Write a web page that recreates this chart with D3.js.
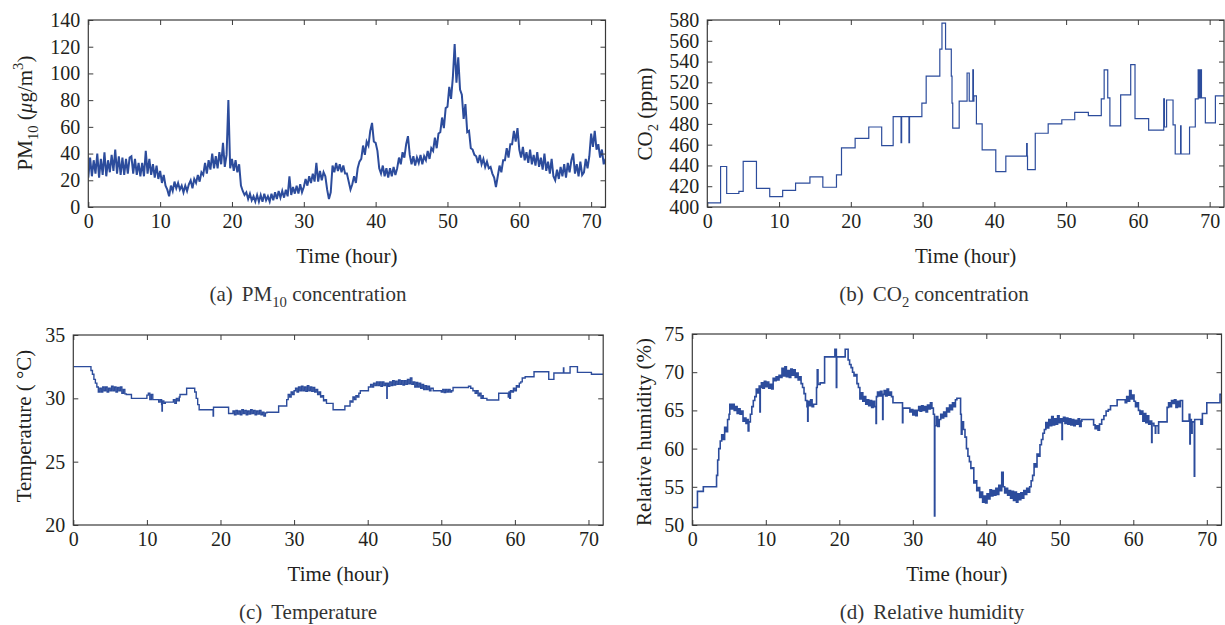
<!DOCTYPE html>
<html><head><meta charset="utf-8">
<script src="https://cdn.jsdelivr.net/npm/d3@7"></script>
<style>
body{margin:0;background:#fff}
svg{display:block}
text{font-family:"Liberation Serif","Times New Roman",serif;fill:#231f20}
</style>
</head><body>
<svg id="chart" width="1225" height="625"></svg>
<script>
// ---------------- data ----------------
const xTicks = [0,10,20,30,40,50,60,70];
const pm10Ticks = [0,20,40,60,80,100,120,140];
const co2Ticks = [400,420,440,460,480,500,520,540,560,580];
const tempTicks = [20,25,30,35];
const rhTicks = [50,55,60,65,70,75];

// PM10 readings every quarter hour (µg/m3)
const pm10Hours = d3.range(0, 72.001, 0.25);
const pm10Values = [
22,37,23,35, 25,40,22,36, 24,41,23,35, 26,39,27,43,
25,38,24,37, 24,36,25,37, 38,25,36,24, 33,23,33,23,
42,25,36,24, 32,22,31,21, 27,18,24,16, 13,8,16,12,
19,14,18,13, 16,11,16,12, 17,20,14,21, 18,24,19,26,
24,33,25,35, 28,40,29,38, 29,41,32,48, 30,39,80,29,
36,27,35,26, 32,16,12,9, 11,6,10,5, 8,4,9,4,
9,4,10,5, 8,4,10,5, 11,6,12,7, 12,7,13,8,
23,9,15,10, 16,10,17,11, 15,21,16,23, 18,25,19,33,
19,27,20,26, 23,13,6,11, 31,26,33,27, 32,26,31,25,
25,19,13,17, 23,18,29,34, 36,46,39,49, 46,57,63,49,
48,42,29,25, 31,23,29,22, 29,23,30,24, 29,37,32,41,
37,47,53,39, 32,38,31,37, 33,39,32,38, 35,42,36,44,
42,52,44,55, 56,67,59,74, 75,90,81,97, 122,93,112,88,
84,66,77,56, 57,44,43,39, 38,33,39,32, 36,30,34,29,
30,25,22,15, 23,31,26,35, 35,44,37,47, 47,57,49,59,
43,37,45,35, 41,33,43,32, 39,31,41,30, 37,28,40,27,
34,25,36,23, 20,28,21,30, 23,32,22,33, 26,35,40,25,
32,23,34,24, 26,36,29,38, 55,45,57,43, 47,37,43,32,
36
];

// CO2 (ppm): [hour, value held until next hour]
const co2Steps = [
[0,404],[1.85,439],[2.7,413],[4.4,415],[5.0,444],[6.85,418],[8.7,410],[10.5,416],
[12.3,423],[14.3,429],[16.1,419],[18.0,431],[18.7,457],[20.6,466],[22.5,477],[24.3,459],
[25.9,487],[27.0,462],[27.08,487],[28.1,462],[28.18,487],[29.9,500],[30.5,526],[32.4,552],
[32.7,577],[33.2,552],[34.0,526],[34.1,500],[34.2,476],[35.1,502],[36.2,529],[36.5,502],
[37.0,532],[37.08,502],[37.15,507],[37.5,480],[38.3,455],[40.2,434],[41.6,449],[44.5,461],
[44.58,449],[44.62,436],[45.7,471],[47.5,480],[49.4,484],[51.2,491],[53.1,488],[54.9,504],
[55.3,532],[55.8,505],[56.1,478],[57.6,508],[59.0,537],[59.6,485],[61.5,474],[63.6,504],
[63.7,477],[64.0,503],[64.9,479],[65.2,451],[65.95,478],[66.02,451],[67.2,477],[68.0,504],
[68.4,532],[68.46,505],[68.6,532],[68.66,505],[68.8,532],[68.86,505],
[69.4,481],[70.8,507],[72,507]
];

// Temperature (°C): [hour, value held until next hour]
const tempSteps = [
[0,32.5],[2.4,32.2],[2.6,31.9],[2.8,31.5],[3.0,31.2],[3.2,30.9],
[3.4,30.5],[3.6,30.8],[3.8,30.5],[4.0,30.9],[4.2,30.6],[4.4,30.9],[4.6,30.5],[4.8,30.8],
[5.0,30.6],[5.2,30.95],[5.4,30.6],[5.6,30.9],[5.8,30.5],[6.0,30.85],[6.2,30.6],[6.4,30.9],
[6.6,30.4],[6.8,30.7],[7.0,30.35],[7.2,30.3],[7.9,30.0],
[10.0,30.25],[10.2,30.4],[10.4,29.9],[10.6,30.3],[10.8,29.9],
[11.6,29.7],[11.8,29.9],[12.0,29.5],[12.05,29.0],[12.1,29.8],[12.3,29.6],
[12.5,29.7],[13.6,29.9],[13.8,29.6],[14.0,30.0],[14.2,29.8],[14.4,30.1],
[14.5,30.3],[15.4,30.8],[16.5,30.5],[16.7,30.0],[16.9,29.5],[17.1,29.1],
[19.0,28.6],[19.05,29.3],
[21.1,28.8],[21.7,29.0],[21.9,28.7],[22.1,29.05],[22.3,28.75],[22.5,29.0],[22.7,28.7],
[22.9,29.1],[23.1,28.8],[23.3,29.05],[23.5,28.7],[23.7,29.0],[23.9,28.75],[24.1,29.1],
[24.3,28.8],[24.5,29.05],[24.7,28.7],[24.9,29.0],[25.1,28.75],[25.3,29.05],[25.5,28.7],
[25.7,28.9],[25.9,28.6],[26.1,28.85],[26.3,28.9],[27.9,29.4],
[29.0,29.9],[29.2,30.3],[29.4,30.1],[29.6,30.5],[29.8,30.3],[30.0,30.6],[30.2,30.8],
[30.4,30.5],[30.6,30.9],[30.8,30.6],[31.0,30.95],[31.2,30.6],[31.4,30.9],[31.6,30.55],
[31.8,31.0],[32.0,30.6],[32.2,30.9],[32.4,30.55],[32.6,30.85],[32.8,30.5],[33.0,30.7],
[33.2,30.3],[33.4,30.5],[33.6,30.1],[33.8,30.2],[34.0,29.8],[34.2,29.9],
[34.4,29.6],[35.3,29.1],[36.9,29.4],[37.6,29.8],[37.8,29.7],[38.0,30.1],[38.2,29.9],
[38.4,30.2],[38.6,30.1],[38.8,30.4],
[39.0,30.6],[40.1,30.9],[40.4,31.1],[40.6,30.9],[40.8,31.2],[41.0,31.0],[41.2,31.3],
[41.4,31.0],[41.6,31.3],[41.8,30.95],[42.0,31.3],[42.2,31.0],[42.4,31.2],[42.6,30.0],
[42.65,31.2],[42.8,30.95],[43.0,31.3],[43.2,31.0],[43.4,31.4],[43.6,31.05],[43.8,31.35],
[44.0,31.1],[44.2,31.45],[44.4,31.1],[44.6,31.4],[44.8,31.05],[45.0,31.4],[45.2,31.1],
[45.4,31.5],[45.6,31.15],[45.8,31.6],[46.0,31.1],[46.2,31.3],[46.4,30.9],[46.6,31.25],
[46.8,30.9],[47.0,31.2],[47.2,30.8],[47.4,31.1],[47.6,30.7],[47.8,31.0],[48.0,30.7],
[48.2,30.95],[48.4,30.6],[48.6,30.8],
[48.9,30.6],[50.0,30.5],[50.2,30.7],[50.4,30.45],[50.6,30.7],[50.8,30.5],[51.0,30.7],
[51.2,30.5],[51.4,30.6],
[51.6,30.85],[53.7,30.95],[54.0,30.8],[54.3,30.6],[54.6,30.4],[54.8,30.6],[55.0,30.2],
[55.2,30.4],[55.4,30.0],[55.6,30.2],
[55.7,30.0],[56.2,29.87],[57.8,30.4],[59.1,30.1],[59.2,30.5],[59.3,30.0],[59.4,30.6],
[59.6,30.5],[59.8,30.8],[60.0,30.6],[60.2,31.0],[60.4,30.9],[60.6,31.2],[60.8,31.3],
[61.0,31.6],[61.4,31.7],[62.6,32.1],[64.6,31.5],[65.3,32.0],[66.6,32.4],[66.65,32.0],
[67.5,32.5],[68.5,32.05],[70.4,31.9],[72,31.9]
];

// Relative humidity (%): [hour, value held until next hour]
const rhSteps = [
[0,52.3],[0.7,54.4],[1.5,55.0],[3.3,56.5],[3.45,58.5],[3.6,60.0],[3.8,61.0],[4.0,61.8],
[4.2,61.2],[4.4,62.8],[4.6,62.2],[4.8,63.8],[5.0,64.5],[5.1,65.8],[5.3,65.2],[5.5,65.8],
[5.7,65.0],[5.9,65.5],[6.1,64.6],[6.3,65.2],[6.5,64.5],[6.7,64.9],[6.9,63.6],[7.1,64.0],
[7.3,63.3],[7.5,63.8],[7.6,62.3],[7.7,63.5],[7.9,64.5],[8.1,65.5],[8.3,66.3],[8.5,66.8],
[8.7,67.8],[8.9,67.3],[9.1,68.2],[9.2,64.8],[9.25,68.0],[9.4,68.6],[9.6,67.9],[9.8,68.8],
[10.0,68.1],[10.2,68.7],[10.4,67.9],[10.6,68.4],[10.8,67.8],[11.0,69.2],[11.2,68.9],
[11.4,69.4],[11.6,69.0],[11.8,69.6],[12.0,69.3],[12.2,70.5],[12.4,69.5],[12.6,70.7],
[12.8,69.4],[13.0,70.2],[13.2,69.3],[13.4,70.4],[13.6,69.6],[13.8,70.3],[14.0,69.3],
[14.2,69.9],[14.4,69.0],[14.6,69.4],[14.8,68.5],[15.0,68.0],[15.2,67.2],[15.4,66.3],
[15.6,65.5],[15.7,63.6],[15.75,66.2],[15.9,65.6],[16.1,66.4],[16.3,65.5],[16.5,65.8],
[16.9,68.0],[17.0,70.3],[17.1,68.4],[17.4,68.6],[18.0,72.0],[19.4,73.0],[19.6,68.0],
[19.65,72.0],[20.8,73.0],[21.2,71.6],[21.4,71.0],[21.6,70.6],[21.8,70.0],[22.0,69.5],
[22.2,69.7],[22.4,68.5],[22.6,68.0],[22.8,66.5],[23.0,67.3],[23.2,66.2],[23.4,66.8],
[23.6,65.8],[23.8,66.4],[24.0,65.6],[24.2,66.3],[24.4,65.4],[24.6,66.2],[24.8,65.5],
[25.0,63.3],[25.05,66.8],[25.2,67.4],[25.4,66.9],[25.6,67.5],[25.8,66.9],[25.9,63.8],
[25.95,67.1],[26.1,67.6],[26.3,66.9],[26.5,67.8],[26.7,67.0],[26.9,67.4],[27.1,66.8],
[27.3,66.0],[28.6,63.4],[28.65,65.3],[29.6,64.8],[29.8,65.1],[30.0,64.4],[30.2,65.0],
[30.4,64.3],[30.6,65.0],[30.8,65.5],[31.0,64.9],[31.2,65.6],[31.4,65.0],[31.6,65.5],
[31.8,64.8],[32.0,65.7],[32.2,65.2],[32.4,66.0],[32.6,65.3],[32.8,64.5],[32.95,51.2],
[33.0,63.0],[33.2,64.2],[33.4,62.9],[33.6,63.8],[33.8,64.5],[34.0,64.0],[34.2,64.8],
[34.4,64.2],[34.6,65.3],[34.8,64.8],[35.0,65.7],[35.2,65.1],[35.4,66.0],[35.6,65.5],
[35.8,66.4],[36.0,66.6],[36.5,64.5],[36.6,61.9],[36.7,63.5],[36.9,62.5],[37.1,61.5],
[37.3,60.0],[37.5,59.0],[37.7,58.3],[37.9,57.4],[38.1,57.5],[38.3,55.5],[38.5,55.8],
[38.7,54.5],[38.9,54.9],[39.1,53.6],[39.3,54.3],[39.5,53.0],[39.7,53.8],[39.9,52.9],
[40.1,54.1],[40.3,53.4],[40.5,54.6],[40.7,53.8],[40.9,54.5],[41.1,53.9],[41.3,54.8],
[41.5,54.0],[41.7,55.2],[41.9,54.5],[42.1,56.9],[42.3,55.0],[42.5,54.2],[42.7,54.8],
[42.9,53.9],[43.1,54.5],[43.3,53.5],[43.5,54.4],[43.7,53.2],[43.9,54.3],[44.1,53.0],
[44.3,54.1],[44.5,53.3],[44.7,54.2],[44.9,53.5],[45.1,54.5],[45.3,54.0],[45.5,54.8],
[45.7,54.3],[45.9,55.0],[46.1,55.8],[46.3,56.5],[46.5,58.0],[46.7,57.6],[46.9,59.3],
[47.1,59.0],[47.3,60.5],[47.5,61.2],[47.7,62.0],[47.9,62.5],[48.1,63.4],[48.3,62.7],
[48.5,63.8],[48.7,63.0],[48.9,64.2],[49.1,63.1],[49.3,63.9],[49.5,63.2],[49.7,64.3],
[49.9,63.4],[50.1,63.9],[50.3,61.2],[50.35,63.6],[50.5,64.1],[50.7,63.3],[50.9,64.0],
[51.1,63.2],[51.3,63.9],[51.5,63.1],[51.7,63.8],[51.9,63.0],[52.1,63.7],[52.3,63.2],
[52.5,63.9],[52.7,62.9],[52.9,63.6],[53.0,63.8],[54.6,63.1],[54.8,62.6],[55.0,63.0],
[55.2,62.4],[55.4,63.2],[55.7,63.8],[56.0,64.3],[56.3,64.9],[56.6,65.1],[56.9,65.6],
[57.8,66.4],[58.9,66.0],[59.1,66.8],[59.3,66.2],[59.5,67.6],[59.7,66.5],[59.9,67.0],
[60.1,66.2],[60.3,65.5],[60.5,66.0],[60.7,65.0],[60.9,64.5],[61.1,64.9],[61.3,63.6],
[61.5,64.6],[61.7,63.4],[61.9,64.3],[62.1,63.2],[62.3,63.6],[62.5,60.8],[62.55,63.3],
[62.8,63.0],[63.0,62.0],[63.05,63.0],[63.4,62.0],[63.45,63.5],[64.6,65.4],[64.8,66.0],
[65.0,65.5],[65.2,66.3],[65.4,65.9],[65.6,66.4],[65.8,65.4],[66.0,66.2],[66.2,65.5],
[66.4,66.3],[66.7,63.6],[67.6,64.5],[67.7,60.6],[67.75,63.8],[67.9,62.0],[68.0,63.5],
[68.3,56.4],[68.35,63.8],[69.2,63.2],[69.4,64.6],[70.0,66.0],[71.8,67.1],[72,67.1]
];

// ---------------- drawing ----------------
const svg = d3.select("#chart");
const LINE = "#2c4c9c";
const FRAME = "#3a3a3a";

const panels = [
  { pts: pm10Hours.map((h,i)=>[h,pm10Values[i]]), curve: d3.curveLinear, width: 2.0,
    yDomain:[0,140], yTicks:pm10Ticks, l:88.3, t:20, r:605.5, b:207,
    ylab:[{s:"PM"},{s:"10",sub:true},{s:" ("},{s:"μ",it:true},{s:"g/m"},{s:"3",sup:true},{s:")"}],
    ylx:32, yly:113,
    cap:[{s:"(a)"},{s:"PM",dx:9},{s:"10",sub:true},{s:" concentration"}], capx:308 },
  { pts: co2Steps, curve: d3.curveStepAfter, width: 1.2,
    yDomain:[400,580], yTicks:co2Ticks, l:707.3, t:20, r:1224, b:207,
    ylab:[{s:"CO"},{s:"2",sub:true},{s:" (ppm)"}],
    ylx:652, yly:114,
    cap:[{s:"(b)"},{s:"CO",dx:9},{s:"2",sub:true},{s:" concentration"}], capx:934 },
  { pts: tempSteps, curve: d3.curveStepAfter, width: 1.4,
    yDomain:[20,35], yTicks:tempTicks, l:73.3, t:335, r:603.2, b:525,
    ylab:[{s:"Temperature ( °C)"}],
    ylx:31, yly:426,
    cap:[{s:"(c)"},{s:"Temperature",dx:9}], capx:308 },
  { pts: rhSteps, curve: d3.curveStepAfter, width: 1.6,
    yDomain:[50,75], yTicks:rhTicks, l:692.3, t:334, r:1221.5, b:525,
    ylab:[{s:"Relative humidity (%)"}],
    ylx:651, yly:432,
    cap:[{s:"(d)"},{s:"Relative humidity",dx:9}], capx:932 }
];

function richText(sel, parts, size){
  let shift = 0;
  parts.forEach(p=>{
    const ts = sel.append("tspan").text(p.s);
    let target = 0;
    if (p.sub) { target = size*0.3; ts.attr("font-size", size*0.7); }
    if (p.sup) { target = -size*0.42; ts.attr("font-size", size*0.7); }
    if (p.it) ts.attr("font-style","italic");
    if (p.dx) ts.attr("dx", p.dx);
    if (target !== shift) { ts.attr("dy", target - shift); shift = target; }
  });
}

panels.forEach((p,k)=>{
  const g = svg.append("g");
  const x = d3.scaleLinear().domain([0,72]).range([p.l,p.r]);
  const y = d3.scaleLinear().domain(p.yDomain).range([p.b,p.t]);

  const cid = "clip"+k;
  svg.append("clipPath").attr("id",cid).append("rect")
     .attr("x",p.l).attr("y",p.t).attr("width",p.r-p.l).attr("height",p.b-p.t);

  const line = d3.line().x(d=>x(d[0])).y(d=>y(d[1])).curve(p.curve);
  g.append("path").datum(p.pts).attr("clip-path",`url(#${cid})`)
   .attr("d",line).attr("fill","none").attr("stroke",LINE)
   .attr("stroke-width",p.width).attr("stroke-linejoin","miter");

  const styleAxis = (ag, labels)=>{
    ag.attr("font-size",null).attr("font-family",null).style("color",FRAME);
    ag.select(".domain").remove();
    ag.selectAll(".tick line").attr("stroke-width",1);
    ag.selectAll("text").attr("font-size",20).style("fill","#231f20");
    if(!labels) ag.selectAll("text").remove();
  };
  g.append("g").attr("transform",`translate(0,${p.b})`)
   .call(d3.axisBottom(x).tickValues(xTicks).tickSize(-5).tickPadding(7)).call(a=>styleAxis(a,true));
  g.append("g").attr("transform",`translate(0,${p.t})`)
   .call(d3.axisTop(x).tickValues(xTicks).tickSize(-5)).call(a=>styleAxis(a,false));
  g.append("g").attr("transform",`translate(${p.l},0)`)
   .call(d3.axisLeft(y).tickValues(p.yTicks).tickSize(-5).tickPadding(8)).call(a=>styleAxis(a,true));
  g.append("g").attr("transform",`translate(${p.r},0)`)
   .call(d3.axisRight(y).tickValues(p.yTicks).tickSize(-5)).call(a=>styleAxis(a,false));

  g.append("rect").attr("x",p.l).attr("y",p.t).attr("width",p.r-p.l).attr("height",p.b-p.t)
   .attr("fill","none").attr("stroke",FRAME).attr("stroke-width",1.2);

  g.append("text").attr("x",(p.l+p.r)/2).attr("y",p.b+56).attr("text-anchor","middle")
   .attr("font-size",21).text("Time (hour)");
  const yt = g.append("text").attr("transform",`translate(${p.ylx},${p.yly}) rotate(-90)`)
   .attr("text-anchor","middle").attr("font-size",21);
  richText(yt, p.ylab, 21);
  const ct = g.append("text").attr("x",p.capx).attr("y",p.b+94).attr("text-anchor","middle")
   .attr("font-size",21).style("fill","#333");
  richText(ct, p.cap, 21);
});
</script>
</body></html>
